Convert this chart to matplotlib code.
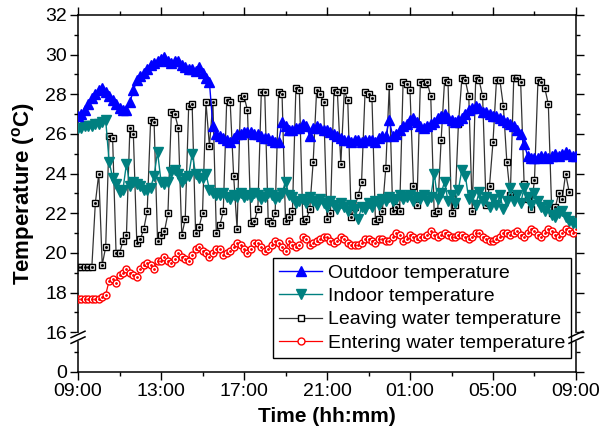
import numpy as np
import matplotlib
matplotlib.use("Agg")
import matplotlib.pyplot as plt

plt.rcParams["font.family"] = ["Liberation Sans", "DejaVu Sans"]

# 10-minute readings, 09:00 -> 09:00 next day (hours since 09:00)
outdoor = [
    26.9, 27.0, 27.2, 27.5, 27.8, 28.0,
    28.2, 28.3, 28.1, 27.9, 27.7, 27.5,
    27.3, 27.2, 27.2, 27.6, 28.2, 28.7,
    28.9, 29.1, 29.3, 29.5, 29.6, 29.7,
    29.8, 29.9, 29.7, 29.6, 29.7, 29.7,
    29.5, 29.4, 29.3, 29.3, 29.2, 29.4,
    29.1, 28.8, 28.6, 26.4, 26.0, 25.9,
    25.8, 25.7, 25.6, 25.8, 26.0, 26.0,
    26.1, 26.1, 26.1, 26.0, 26.0, 25.9,
    25.8, 25.8, 25.7, 25.6, 25.6, 26.6,
    26.4, 26.2, 26.2, 26.3, 26.3, 26.5,
    26.4, 25.9, 26.3, 26.4, 26.3, 26.2,
    26.2, 26.1, 26.0, 25.9, 25.8, 25.7,
    25.7, 25.6, 25.7, 25.7, 25.6, 25.7,
    25.7, 25.7, 25.6, 25.8, 25.9, 25.9,
    26.7, 25.9, 26.0, 26.2, 26.4, 26.5,
    26.7, 26.8, 26.6, 26.4, 26.3, 26.4,
    26.5, 26.6, 26.8, 26.9, 27.0, 26.8,
    26.7, 26.6, 26.7, 26.8, 27.0, 27.2,
    27.3, 27.4, 27.3, 27.1, 27.1, 27.0,
    26.9, 26.9, 26.8, 26.7, 26.6, 26.5,
    26.4, 26.2, 26.0, 25.5, 24.9, 24.8,
    24.8, 24.8, 24.9, 24.9, 24.8, 24.9,
    25.0, 24.9, 25.0, 25.1, 25.0, 24.9,
    24.9,
]
indoor = [
    26.3, 26.3, 26.4, 26.4, 26.4, 26.5,
    26.5, 26.6, 26.7, 24.6, 23.8, 23.5,
    23.1, 23.2, 24.5, 23.4, 23.6, 23.5,
    23.4, 23.2, 23.2, 23.3, 23.9, 25.1,
    23.6, 23.5, 23.6, 24.1, 24.2, 24.0,
    23.6, 23.8, 23.9, 25.0, 24.0, 23.8,
    23.8, 24.0, 23.2, 23.0, 22.9, 22.9,
    23.0, 22.8, 22.7, 22.9, 22.8, 23.0,
    22.8, 22.9, 22.8, 23.0, 22.9, 22.7,
    22.8, 23.0, 22.9, 22.7, 22.8, 23.0,
    23.6, 22.9, 22.8, 22.5, 22.6, 22.7,
    22.5, 22.8, 22.6, 22.4, 22.7, 22.5,
    22.3, 22.6, 22.4, 22.2, 22.5, 22.3,
    22.1, 22.4, 22.2, 21.7, 22.3, 22.2,
    22.5, 22.3, 22.6, 22.4, 22.7, 22.6,
    22.8, 22.6, 22.7, 22.9, 22.7, 22.8,
    22.9, 22.6, 22.8, 22.7, 22.9, 22.6,
    22.8, 24.0, 22.7, 23.0, 23.6, 22.6,
    22.9, 22.5, 23.2, 24.2, 23.9, 22.7,
    22.9, 22.4, 23.1, 22.6, 22.8, 22.3,
    22.7, 22.4, 22.9, 22.2, 22.6, 23.3,
    22.6, 22.9, 22.5, 23.3, 22.8, 22.4,
    23.0, 22.6, 22.3, 22.1, 22.4, 21.9,
    21.8, 22.0, 22.1, 21.8, 21.6, 21.5,
    21.5,
]
leaving = [
    19.3, 19.3, 19.3, 19.3, 19.3, 22.5,
    24.0, 19.4, 20.3, 25.9, 25.8, 20.0,
    20.0, 20.6, 20.9, 26.3, 26.0, 20.5,
    20.7, 21.2, 22.1, 26.7, 26.6, 20.6,
    20.9, 21.1, 22.0, 27.1, 27.0, 26.3,
    20.9, 21.7, 27.4, 27.5, 21.0, 21.3,
    22.0, 27.6, 25.4, 27.6, 21.0, 21.4,
    22.1, 27.7, 27.6, 23.9, 21.2, 27.8,
    27.9, 27.2, 21.5, 21.6, 22.2, 28.1,
    28.1, 21.6, 21.5, 22.0, 28.1, 28.0,
    21.6, 21.8, 22.1, 28.3, 28.2, 21.6,
    21.7, 22.2, 24.6, 28.2, 28.0, 27.6,
    21.7, 22.0, 28.2, 28.1, 24.5, 28.2,
    27.7, 21.8, 22.3, 22.9, 23.6, 28.1,
    28.0, 27.8, 21.6, 21.7, 22.1, 24.3,
    28.4, 22.1, 22.3, 22.1, 28.6, 28.5,
    28.2, 23.4, 22.4, 28.6, 28.5, 28.6,
    27.9, 22.0, 22.1, 25.7, 28.7, 28.6,
    22.0, 22.4, 26.5, 28.8, 28.7, 27.9,
    22.1, 28.8, 28.7, 27.9, 22.4, 23.4,
    25.6, 28.7, 28.7, 27.4, 24.6, 22.9,
    28.8, 28.8, 28.6, 23.5, 22.7, 22.2,
    23.7, 28.7, 28.6, 28.3, 27.5, 22.0,
    22.3, 23.0, 22.7, 24.0, 23.1,
]
entering = [
    17.7, 17.7, 17.7, 17.7, 17.7, 17.7,
    17.7, 17.8, 17.9, 18.6, 18.7, 18.5,
    18.9, 19.0, 19.2, 19.0, 18.9, 18.8,
    19.2, 19.4, 19.5, 19.4, 19.2, 19.6,
    19.6, 19.8, 19.6, 19.5, 19.7, 20.0,
    19.8, 19.7, 19.6, 19.9, 20.2, 20.3,
    20.1, 20.0, 19.8, 20.0, 20.2, 20.2,
    19.9, 20.0, 20.1, 20.3, 20.5, 20.4,
    20.2, 20.0, 20.2, 20.5, 20.5, 20.3,
    20.1, 20.2, 20.4, 20.6, 20.5, 20.3,
    20.1, 20.6, 20.4, 20.3, 20.4, 20.8,
    20.7, 20.4, 20.5, 20.6, 20.7, 20.8,
    20.8, 20.6, 20.5, 20.6, 20.8, 20.7,
    20.5, 20.4, 20.4, 20.4, 20.5, 20.7,
    20.7, 20.6, 20.5, 20.7, 20.7, 20.6,
    20.6, 20.8, 21.0, 20.9, 20.6, 20.7,
    20.9, 20.8, 20.7, 20.8, 20.8, 20.9,
    21.1, 20.9, 20.8, 20.9, 21.0, 20.9,
    20.8, 20.8, 20.9, 20.9, 20.8, 20.7,
    20.8, 21.0, 21.0, 20.8, 20.7, 20.6,
    20.6, 20.7, 20.8, 21.0, 21.0, 20.9,
    21.0, 21.1, 20.9, 20.8, 21.0, 21.2,
    21.1, 20.9, 20.8, 21.0, 21.2, 21.1,
    20.9, 20.8, 21.0, 21.2, 21.1, 21.0,
    21.2,
]

hours = np.arange(len(outdoor)) / 6.0
xtick_pos = [0, 4, 8, 12, 16, 20, 24]
xtick_labels = ["09:00", "13:00", "17:00", "21:00", "01:00", "05:00", "09:00"]
# the axis is broken: 0 is drawn one step below 16
ytick_pos = [14, 16, 18, 20, 22, 24, 26, 28, 30, 32]
ytick_labels = ["0", "16", "18", "20", "22", "24", "26", "28", "30", "32"]

fig = plt.figure(figsize=(6.02, 4.32), dpi=100)
ax = fig.add_axes([0.1296, 0.1389, 0.8272, 0.8264])

ax.plot(hours[:len(leaving)], leaving, "-s", color="#333333", lw=0.9,
        ms=4.2, mfc="white", mec="black", mew=1.0,
        label="Leaving water temperature", zorder=2)
ax.plot(hours[:len(leaving)], leaving, "s", color="black", ms=1.0, zorder=2.1)
ax.plot(hours, entering, "-o", color="red", lw=0.9, ms=5, mfc="white",
        mec="red", mew=1.0, label="Entering water temperature", zorder=3)
ax.plot(hours, entering, "o", color="red", ms=1.0, zorder=3.1)
ax.plot(hours, indoor, "-v", color="#008080", lw=1.0, ms=7,
        label="Indoor temperature", zorder=4)
ax.plot(hours, outdoor, "-^", color="#0000ff", lw=1.0, ms=7,
        label="Outdoor temperature", zorder=5)

ax.set_xlim(0, 24)
ax.set_ylim(14, 32)
ax.set_xticks(xtick_pos)
ax.set_xticklabels(xtick_labels)
ax.set_xticks(np.arange(2, 24, 4), minor=True)
ax.set_yticks(ytick_pos)
ax.set_yticklabels(ytick_labels)
ax.set_yticks(np.arange(15, 32, 2), minor=True)
ax.tick_params(which="both", direction="out", labelsize=14, top=True,
               right=True, width=1, pad=2)
ax.tick_params(which="major", length=6)
ax.tick_params(which="minor", length=3)
for s in ax.spines.values():
    s.set_linewidth(1.1)

ax.set_xlabel("Time (hh:mm)", fontsize=15, fontweight="bold", labelpad=5)
ax.set_ylabel("Temperature ($\\mathregular{^o}$C)", fontsize=16,
              fontweight="bold", labelpad=6)

# axis break marks on both vertical spines
yb = (15.75 - 14) / 18
for xs in (0, 1):
    ax.plot([xs, xs], [yb - 0.006, yb + 0.006], color="white", lw=3,
            transform=ax.transAxes, clip_on=False, zorder=10)
    for off in (-0.008, 0.008):
        ax.plot([xs - 0.014, xs + 0.014], [yb + off - 0.009, yb + off + 0.009],
                color="black", lw=1.1, transform=ax.transAxes, clip_on=False,
                zorder=11)

handles, labels = ax.get_legend_handles_labels()
order = [3, 2, 0, 1]
leg = ax.legend([handles[i] for i in order], [labels[i] for i in order],
                loc="lower right", bbox_to_anchor=(0.99, 0.04), fontsize=14,
                frameon=True, fancybox=False, edgecolor="black", framealpha=1,
                handlelength=2.2, labelspacing=0.3, borderpad=0.3,
                handletextpad=0.3, borderaxespad=0)
leg.get_frame().set_linewidth(1.0)

fig.savefig("out.png", dpi=100)
